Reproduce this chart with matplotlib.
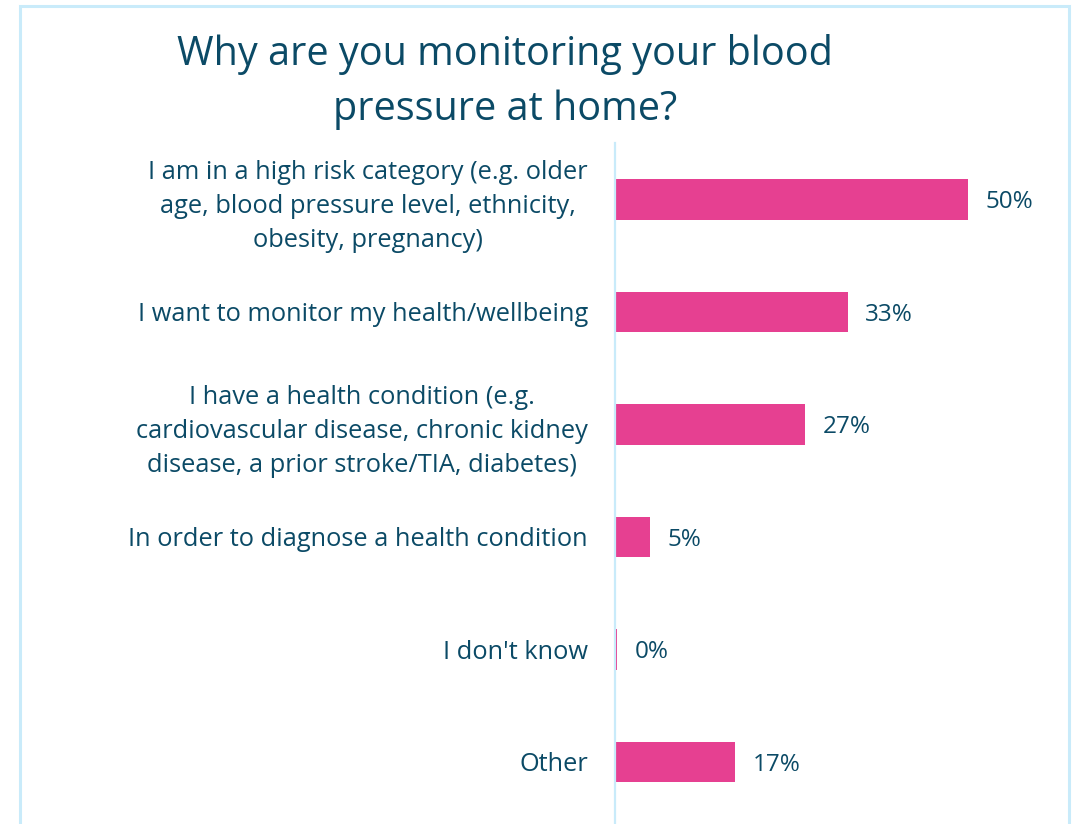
import matplotlib.pyplot as plt
from matplotlib.patches import Rectangle

categories = [
    'I am in a high risk category (e.g. older\nage, blood pressure level, ethnicity,\nobesity, pregnancy)',
    'I want to monitor my health/wellbeing',
    'I have a health condition (e.g.\ncardiovascular disease, chronic kidney\ndisease, a prior stroke/TIA, diabetes)',
    'In order to diagnose a health condition',
    "I don't know",
    'Other',
]
values = [50, 33, 27, 5, 0.3, 17]
value_labels = ['50%', '33%', '27%', '5%', '0%', '17%']

text_col = '#0b4a66'
bar_col = '#e64091'
line_col = '#c9ebfa'

plt.rcParams['font.family'] = ['Open Sans', 'DejaVu Sans']

fig = plt.figure(figsize=(10.77, 8.24), dpi=100)
ax = fig.add_axes([615 / 1077, 6 / 824, (1060 - 615) / 1077, (818 - 143) / 824])

y = list(range(len(categories)))
ax.barh(y, values, height=0.36, color=bar_col)
ax.set_ylim(len(categories) - 0.5, -0.5)
ax.set_xlim(0, 63.1)

for yi, v, lab in zip(y, values, value_labels):
    ax.text(v + 2.5, yi, lab, va='center_baseline', ha='left', fontsize=17.5,
            color=text_col)

ax.set_yticks(y)
ax.set_yticklabels(categories, fontsize=18.3, color=text_col, ha='right',
                   multialignment='center', linespacing=1.48)
ax.tick_params(axis='y', length=0, pad=19.5)
ax.set_xticks([])
for s in ['top', 'right', 'bottom']:
    ax.spines[s].set_visible(False)
ax.spines['left'].set_color(line_col)
ax.spines['left'].set_linewidth(1.6)
ax.spines['left'].set_bounds(len(categories) - 0.4, -0.5)

fig.text(505 / 1077, 1 - 82 / 824, 'Why are you monitoring your blood\npressure at home?',
         ha='center', va='center', fontsize=28.5, color=text_col, linespacing=1.45)

border = Rectangle((20 / 1077, -0.05), (1069 - 20) / 1077, 1.05 - 6 / 824,
                   transform=fig.transFigure, fill=False, edgecolor=line_col,
                   linewidth=2.2, clip_on=False)
fig.add_artist(border)

fig.savefig('out.png', dpi=100)
